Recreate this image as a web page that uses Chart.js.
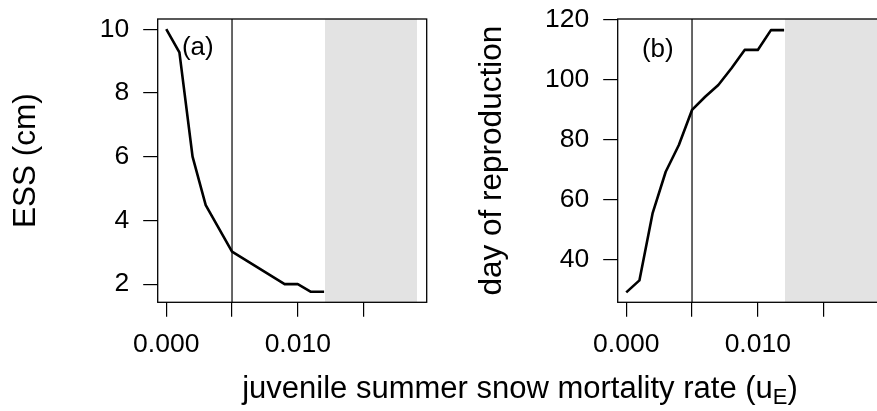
<!DOCTYPE html>
<html>
<head>
<meta charset="utf-8">
<script src="https://cdn.jsdelivr.net/npm/chart.js@4.4.1/dist/chart.umd.min.js"></script>
<style>
  html, body { margin: 0; padding: 0; background: #fff; overflow: hidden; }
  body { width: 877px; height: 411px; position: relative; }
  canvas { position: absolute; top: 0; }
  #xtitle {
    position: absolute; left: 520px; top: 372px; transform: translateX(-50%);
    font: 31px "Liberation Sans", Arial, sans-serif; line-height: 31px; white-space: nowrap; color: #000;
  }
  #xtitle span { font-size: 22px; position: relative; top: 6px; }
</style>
</head>
<body>
<canvas id="chartA" width="440" height="411" style="left:0"></canvas>
<canvas id="chartB" width="460" height="411" style="left:440px"></canvas>
<div id="xtitle">juvenile summer snow mortality rate (u<span>E</span>)</div>
<script>
// mortality rate grid (x) and results per panel
const xA = [0, 0.001, 0.002, 0.003, 0.005, 0.009, 0.010, 0.011, 0.012];
const essA = [10.0, 9.27, 6.0, 4.48, 3.02, 2.0, 2.0, 1.76, 1.76];

const xB = [0, 0.001, 0.002, 0.003, 0.004, 0.005, 0.006, 0.007, 0.008, 0.009, 0.010, 0.011, 0.012];
const dayB = [29, 33, 55.3, 69.2, 78.1, 89.8, 94.2, 98.1, 103.7, 109.8, 109.8, 116.4, 116.4];

const xTicks = [0, 0.005, 0.010, 0.015];
const xTickLabels = ['0.000', '', '0.010', ''];
const yTicksA = [2, 4, 6, 8, 10];
const yTicksB = [40, 60, 80, 100, 120];

const markX = 0.005;          // vertical reference line
const shadeX = [0.01207, 0.01906]; // grey region

Chart.defaults.font.family = '"Liberation Sans", Arial, sans-serif';
Chart.defaults.color = '#000';

const panelPlugin = {
    id: 'panel',
    beforeDatasetsDraw(chart, args, opts) {
        const { ctx, chartArea: a, scales: { x } } = chart;
        ctx.save();
        ctx.fillStyle = '#e3e3e3';
        const x0 = x.getPixelForValue(shadeX[0]);
        const x1 = x.getPixelForValue(shadeX[1]);
        ctx.fillRect(x0, a.top, x1 - x0, a.bottom - a.top);
        ctx.strokeStyle = '#000';
        ctx.lineWidth = 1.2;
        const xm = x.getPixelForValue(markX);
        ctx.beginPath();
        ctx.moveTo(xm, a.top);
        ctx.lineTo(xm, a.bottom);
        ctx.stroke();
        ctx.restore();
    },
    afterDatasetsDraw(chart, args, opts) {
        const { ctx, chartArea: a, scales: { x, y } } = chart;
        ctx.save();
        ctx.fillStyle = '#000';
        ctx.font = '26px "Liberation Sans", Arial, sans-serif';
        ctx.textAlign = 'center';
        ctx.textBaseline = 'middle';
        ctx.fillText(opts.label, x.getPixelForValue(opts.lx), y.getPixelForValue(opts.ly));
        ctx.strokeStyle = '#000';
        ctx.lineWidth = 1.3;
        ctx.strokeRect(a.left, a.top, a.right - a.left, a.bottom - a.top);
        ctx.restore();
    }
};

function makePanel(canvasId, xs, ys, yTicks, yMin, yMax, yTitle, titlePad, yWidth, label, ly) {
    return new Chart(document.getElementById(canvasId), {
        type: 'line',
        data: {
            datasets: [{
                data: xs.map((v, i) => ({ x: v, y: ys[i] })),
                borderColor: '#000',
                borderWidth: 2.6,
                borderJoinStyle: 'round',
                pointRadius: 0,
                tension: 0,
                fill: false
            }]
        },
        options: {
            responsive: false,
            animation: false,
            layout: { padding: { left: 0, top: 19, right: 13.3, bottom: 0 } },
            plugins: {
                legend: { display: false },
                tooltip: { enabled: false },
                panel: { label: label, lx: 0.0024, ly: ly }
            },
            scales: {
                x: {
                    type: 'linear',
                    min: -0.00065,
                    max: 0.0198,
                    afterBuildTicks: s => { s.ticks = xTicks.map(v => ({ value: v })); },
                    afterFit: s => { s.height = 108.7; s.paddingLeft = 0; s.paddingRight = 0; },
                    border: { display: false },
                    grid: { drawOnChartArea: false, drawTicks: true, tickLength: 14.5, color: '#000', lineWidth: 1.2 },
                    ticks: {
                        autoSkip: false, maxRotation: 0, padding: 12,
                        font: { size: 26.5 },
                        callback: (v, i) => xTickLabels[i]
                    }
                },
                y: {
                    type: 'linear',
                    min: yMin,
                    max: yMax,
                    afterBuildTicks: s => { s.ticks = yTicks.map(v => ({ value: v })); },
                    afterFit: s => { s.width = yWidth; s.paddingTop = 0; s.paddingBottom = 0; },
                    border: { display: false },
                    grid: { drawOnChartArea: false, drawTicks: true, tickLength: 14.5, color: '#000', lineWidth: 1.2 },
                    ticks: { padding: 14, font: { size: 26.5 } },
                    title: {
                        display: true,
                        text: yTitle,
                        font: { size: 31.5 },
                        padding: { top: titlePad, bottom: 0 }
                    }
                }
            }
        },
        plugins: [panelPlugin]
    });
}

makePanel('chartA', xA, essA, yTicksA, 1.43, 10.32, 'ESS (cm)', 7.4, 157.7, '(a)', 9.4);
makePanel('chartB', xB, dayB, yTicksB, 25.7, 120.1, 'day of reproduction', 33.4, 177.7, '(b)', 109.8);
</script>
</body>
</html>
